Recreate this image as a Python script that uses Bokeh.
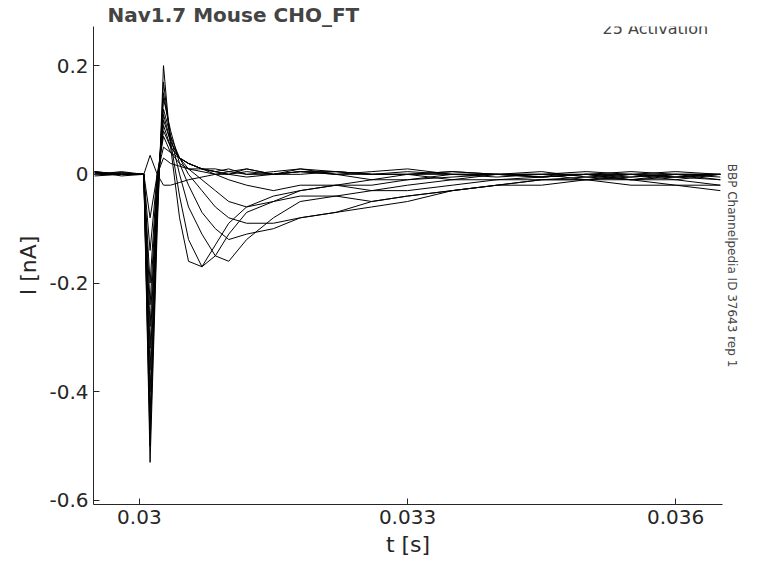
from bokeh.plotting import figure
from bokeh.models import Label, Title, Range1d, FixedTicker
from bokeh.embed import file_html
from bokeh.resources import INLINE

t_ms = [29.5, 29.8, 30.05, 30.12, 30.2, 30.27, 30.35, 30.45, 30.55, 30.7, 30.85, 31.0, 31.2, 31.5, 31.8, 32.2, 32.6, 33.0, 33.5, 34.0, 34.5, 35.0, 35.5, 36.0, 36.5]
traces = [
 [0.005,-0.003,0.0,-0.53,-0.1,0.20,0.05,-0.08,-0.16,-0.17,-0.13,-0.09,-0.06,-0.04,-0.03,-0.02,-0.01,0.0,-0.01,0.0,-0.005,0.0,-0.01,-0.005,0.0],
 [0.003,0.0,0.0,-0.50,-0.08,0.17,0.06,-0.04,-0.12,-0.17,-0.15,-0.11,-0.07,-0.05,-0.03,-0.02,-0.02,-0.01,-0.005,0.0,0.0,-0.01,0.0,-0.005,-0.01],
 [0.0,0.005,0.0,-0.47,-0.07,0.15,0.07,0.0,-0.06,-0.11,-0.15,-0.16,-0.12,-0.08,-0.05,-0.04,-0.03,-0.02,-0.01,-0.01,-0.005,0.0,-0.01,0.0,-0.005],
 [-0.003,0.0,0.0,-0.44,-0.05,0.14,0.08,0.02,-0.02,-0.07,-0.10,-0.12,-0.11,-0.10,-0.08,-0.07,-0.05,-0.04,-0.03,-0.02,-0.01,-0.01,-0.005,0.0,-0.01],
 [0.005,0.0,0.0,-0.40,-0.04,0.12,0.07,0.03,0.0,-0.03,-0.06,-0.08,-0.09,-0.09,-0.08,-0.07,-0.06,-0.05,-0.03,-0.02,-0.01,-0.01,-0.02,-0.02,-0.03],
 [0.0,0.003,0.0,-0.36,-0.03,0.11,0.06,0.03,0.01,-0.01,-0.03,-0.05,-0.06,-0.05,-0.04,-0.04,-0.05,-0.04,-0.03,-0.02,-0.02,-0.01,-0.01,-0.02,-0.02],
 [0.0,0.0,0.0,-0.32,-0.02,0.10,0.06,0.03,0.02,0.01,0.0,-0.01,-0.02,-0.03,-0.02,-0.02,-0.03,-0.03,-0.02,-0.01,-0.01,-0.005,-0.01,-0.01,-0.02],
 [0.005,0.0,0.0,-0.28,-0.02,0.09,0.05,0.03,0.02,0.01,0.005,0.0,-0.005,0.0,0.005,0.0,-0.01,-0.01,0.0,0.0,-0.005,0.0,0.0,-0.01,0.0],
 [0.0,0.003,0.0,-0.24,-0.01,0.08,0.05,0.03,0.02,0.01,0.005,0.01,0.0,0.005,0.01,0.005,0.0,0.0,0.005,0.0,-0.005,0.0,0.005,0.0,0.0],
 [0.003,0.0,0.0,-0.20,0.0,0.07,0.04,0.03,0.02,0.01,0.01,0.005,0.01,0.0,0.01,0.0,0.005,0.01,0.0,0.0,0.005,-0.005,0.0,0.005,0.0],
 [0.0,0.0,0.0,-0.14,0.0,0.05,0.04,0.02,0.01,0.01,0.005,0.0,0.01,0.0,0.005,0.005,0.0,0.0,0.005,0.0,0.0,0.0,-0.005,0.0,0.0],
 [0.003,0.0,0.0,-0.08,0.0,0.03,0.02,0.015,0.01,0.005,0.0,0.005,0.0,0.0,0.005,0.0,0.0,0.005,0.0,-0.005,0.0,0.0,0.0,-0.005,0.0],
 [0.0,0.0,0.0,0.035,0.0,-0.02,-0.02,-0.015,-0.01,-0.005,0.0,0.0,0.005,0.0,0.0,0.005,0.0,0.0,0.0,0.0,0.0,0.005,0.0,0.0,0.0],
]
x_ticks = [0.03, 0.033, 0.036]
y_ticks = [-0.6, -0.4, -0.2, 0.0, 0.2]
title_text = "Nav1.7  Mouse  CHO_FT"
sub_text = "25  Activation"
side_text = "BBP Channelpedia ID 37643 rep 1"

FONT = "DejaVu Sans"
p = figure(width=762, height=567, output_backend="svg", toolbar_location=None,
           x_range=Range1d(0.029487, 0.036524), y_range=Range1d(-0.6075, 0.272),
           min_border_left=93, min_border_right=40, min_border_top=0, min_border_bottom=63)
p.outline_line_color = None
p.grid.visible = False
t = [v / 1000 for v in t_ms]
for tr in traces:
    p.line(t, tr, line_color="black", line_width=1)

p.xaxis.ticker = FixedTicker(ticks=x_ticks)
p.yaxis.ticker = FixedTicker(ticks=y_ticks)
p.xaxis.major_label_overrides = {0.03: "0.03", 0.033: "0.033", 0.036: "0.036"}
p.yaxis.major_label_overrides = {-0.6: "-0.6", -0.4: "-0.4", -0.2: "-0.2", 0.0: "0", 0.2: "0.2"}
for ax in (p.xaxis, p.yaxis):
    ax.major_label_text_font = FONT
    ax.major_label_text_font_size = "20px"
    ax.major_label_text_color = "#262626"
    ax.axis_label_text_font = FONT
    ax.axis_label_text_font_size = "22px"
    ax.axis_label_text_font_style = "normal"
    ax.axis_label_text_color = "#262626"
    ax.axis_line_color = "#262626"
    ax.major_tick_line_color = "#262626"
    ax.major_tick_in = 6
    ax.major_tick_out = 0
    ax.minor_tick_line_color = None
p.xaxis.axis_label = "t [s]"
p.yaxis.axis_label = "I [nA]"

p.add_layout(Title(text=title_text, text_font=FONT, text_font_size="20px", text_font_style="bold",
                   align="left", offset=14, standoff=0), "above")
p.add_layout(Label(x=0.03642, y=0.250, text=sub_text, text_font=FONT, text_font_size="16px",
                   text_align="right", text_baseline="bottom"))
p.add_layout(Title(text=side_text, text_font=FONT, text_font_size="12px", text_font_style="normal",
                   align="center", standoff=4), "right")

open("out.html", "w").write(file_html(p, INLINE))
